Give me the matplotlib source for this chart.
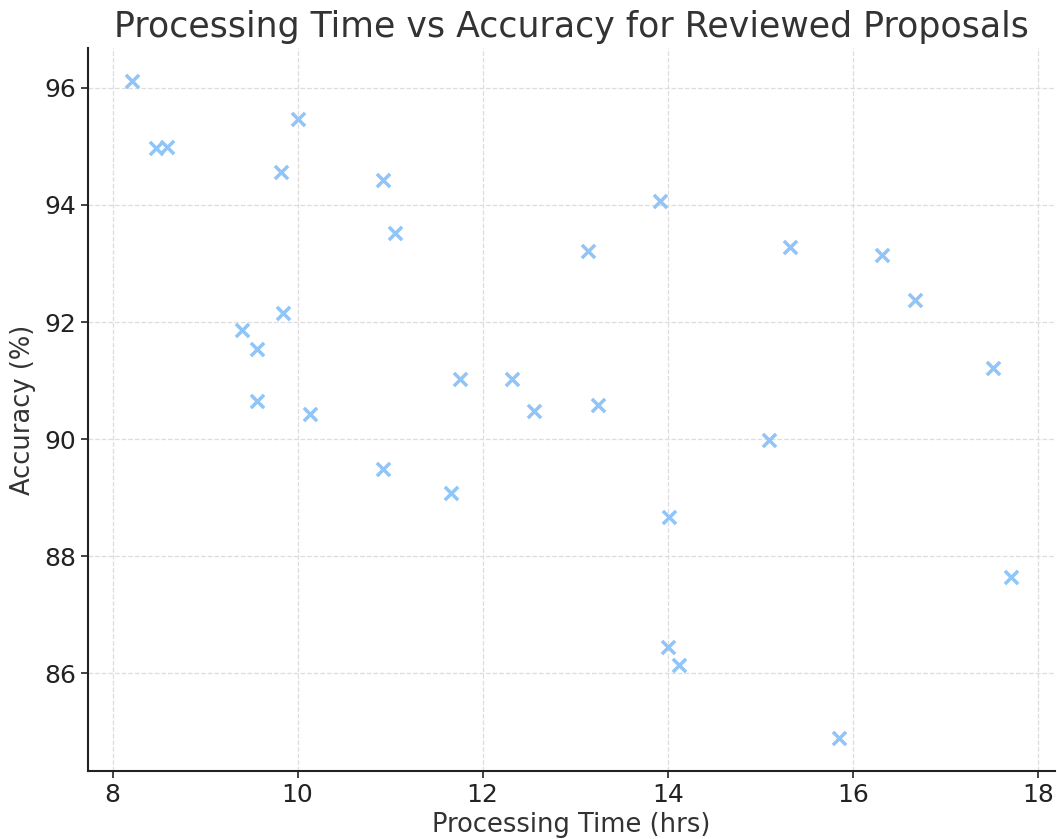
import matplotlib
matplotlib.use("Agg")
import matplotlib.pyplot as plt

# processing time (hrs) and accuracy (%)
processing_time = [8.21, 8.47, 8.59, 10.00, 9.82, 10.92, 11.05, 13.92, 13.14, 15.32,
                   16.32, 16.67, 9.84, 9.40, 9.56, 9.56, 10.13, 11.75, 12.32, 12.56,
                   13.25, 15.09, 17.51, 10.92, 11.66, 14.01, 17.71, 14.00, 14.12, 15.85]
accuracy = [96.12, 94.97, 94.99, 95.47, 94.56, 94.42, 93.52, 94.06, 93.21, 93.28,
            93.14, 92.37, 92.16, 91.87, 91.54, 90.65, 90.43, 91.03, 91.03, 90.48,
            90.58, 89.98, 91.21, 89.49, 89.08, 88.66, 87.65, 86.45, 86.14, 84.89]

x_ticks = [8, 10, 12, 14, 16, 18]
y_ticks = [86, 88, 90, 92, 94, 96]

fig = plt.figure(figsize=(10.57, 8.39), dpi=100)
ax = fig.add_axes([88 / 1057, 68 / 839, 967 / 1057, 723 / 839])

ax.scatter(processing_time, accuracy, marker="x", s=90, linewidths=2.5,
           color="#91c4f7", zorder=3)

ax.set_xticks(x_ticks)
ax.set_yticks(y_ticks)
ax.tick_params(labelsize=18, length=5, width=1.2, colors="#222222")
ax.grid(True, ls="--", color="#dddddd", lw=0.9)
ax.set_axisbelow(True)
for side in ["top", "right"]:
    ax.spines[side].set_visible(False)
for side in ["left", "bottom"]:
    ax.spines[side].set_linewidth(1.5)
    ax.spines[side].set_color("#222222")

ax.set_xlabel("Processing Time (hrs)", fontsize=18.5, color="#333333", labelpad=4)
ax.set_ylabel("Accuracy (%)", fontsize=18.5, color="#333333", labelpad=6)
ax.set_title("Processing Time vs Accuracy for Reviewed Proposals",
             fontsize=25, color="#333333", pad=8)

fig.savefig("out.png", dpi=100)
